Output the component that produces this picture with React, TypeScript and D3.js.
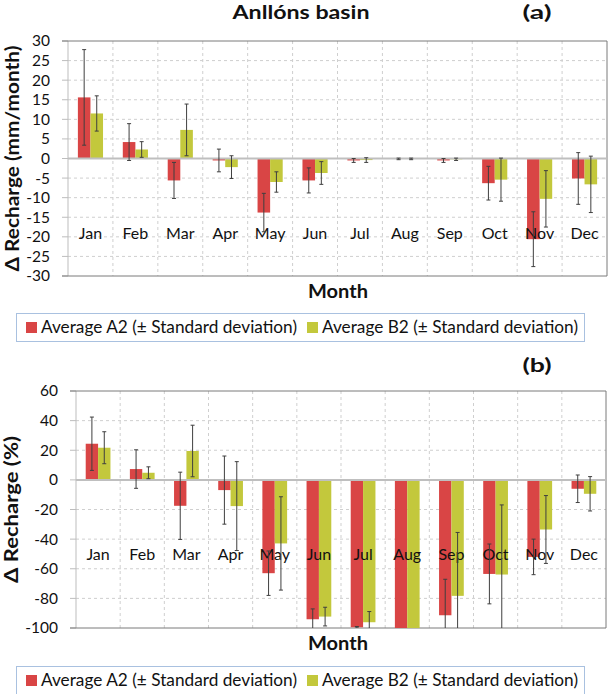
import React, { useEffect, useRef } from 'react';
import * as d3 from 'd3';

const months = ['Jan', 'Feb', 'Mar', 'Apr', 'May', 'Jun', 'Jul', 'Aug', 'Sep', 'Oct', 'Nov', 'Dec'];
const seriesNames = ['Average A2 (± Standard deviation)', 'Average B2 (± Standard deviation)'];
const seriesColors = ['#d94545', '#c3c83c'];

// panel (a): change in recharge, mm/month
const a2Mm = [15.6, 4.2, -5.6, -0.5, -13.8, -5.6, -0.5, -0.1, -0.5, -6.3, -20.6, -5.1];
const a2MmSd = [12.2, 4.7, 4.6, 2.9, 4.9, 3.2, 0.5, 0.2, 0.5, 4.3, 7.0, 6.6];
const b2Mm = [11.5, 2.3, 7.3, -2.2, -6.0, -3.7, -0.4, -0.1, -0.2, -5.4, -10.3, -6.6];
const b2MmSd = [4.5, 2.0, 6.6, 2.9, 2.6, 2.9, 0.6, 0.2, 0.3, 5.5, 7.2, 7.2];

// panel (b): change in recharge, %
const a2Pct = [24.4, 7.3, -17.5, -6.9, -63, -94.1, -99.5, -100, -91.4, -63.5, -52, -6];
const a2PctSd = [18, 13, 22.7, 23, 15, 7, 0.5, 0, 24.3, 20.2, 12, 9.3];
const b2Pct = [21.7, 4.8, 19.5, -17.7, -42.9, -92.3, -96.1, -100, -78.3, -63.9, -33.5, -9.4];
const b2PctSd = [10.8, 4, 17.4, 30, 31.5, 6.3, 7.2, 0, 42.8, 47, 22.9, 11.6];

const ticksA = [30, 25, 20, 15, 10, 5, 0, -5, -10, -15, -20, -25, -30];
const ticksB = [60, 40, 20, 0, -20, -40, -60, -80, -100];

const FONT = 'Lato, "Open Sans", sans-serif';

const App = () => {
    const svgRef = useRef(null);

    useEffect(() => {
        const svg = d3.select(svgRef.current);
        svg.selectAll('*').remove();

        const panels = [
            {
                id: 'a', left: 68, right: 607, top: 41, bottom: 276, domain: [-30, 30], ticks: ticksA,
                values: [a2Mm, b2Mm], sds: [a2MmSd, b2MmSd], tickRight: 50,
                yTitle: 'Δ Recharge (mm/month)', yTitleX: 13, yTitleLen: 226,
                title: 'Anllóns basin', letter: '(a)', letterY: 19, monthY: 298,
                legendY: 313
            },
            {
                id: 'b', left: 76, right: 606, top: 391, bottom: 628, domain: [-100, 60], ticks: ticksB,
                values: [a2Pct, b2Pct], sds: [a2PctSd, b2PctSd], tickRight: 58,
                yTitle: 'Δ Recharge (%)', yTitleX: 12, yTitleLen: 147,
                title: null, letter: '(b)', letterY: 372, monthY: 650,
                legendY: 666
            }
        ];

        panels.forEach(p => {
            const g = svg.append('g');
            const y = d3.scaleLinear().domain(p.domain).range([p.bottom, p.top]);
            const x0 = d3.scaleBand().domain(months).range([p.left, p.right])
                .paddingInner(0.44).paddingOuter(0.22);
            const x1 = d3.scaleBand().domain(['A2', 'B2']).range([0, x0.bandwidth()]);
            const step = x0.step();

            g.append('clipPath').attr('id', 'clip-' + p.id)
                .append('rect')
                .attr('x', p.left).attr('y', p.top)
                .attr('width', p.right - p.left).attr('height', p.bottom - p.top);

            // horizontal grid
            g.selectAll('.hgrid').data(p.ticks.filter(t => t !== 0 && t !== p.domain[0] && t !== p.domain[1]))
                .join('line')
                .attr('x1', p.left).attr('x2', p.right)
                .attr('y1', d => y(d)).attr('y2', d => y(d))
                .attr('stroke', '#cfcfcf').attr('stroke-dasharray', '3,3');

            // vertical grid
            g.selectAll('.vgrid').data(months.slice(1))
                .join('line')
                .attr('x1', d => x0(d) - step * 0.22).attr('x2', d => x0(d) - step * 0.22)
                .attr('y1', p.top).attr('y2', p.bottom)
                .attr('stroke', '#cfcfcf').attr('stroke-dasharray', '3,3');

            // tick marks + labels
            g.selectAll('.tick').data(p.ticks)
                .join('line')
                .attr('x1', p.left - 6).attr('x2', p.left)
                .attr('y1', d => y(d)).attr('y2', d => y(d))
                .attr('stroke', '#bdbdbd');
            g.selectAll('.tlabel').data(p.ticks)
                .join('text')
                .attr('x', p.tickRight).attr('y', d => y(d))
                .attr('dy', '0.35em')
                .attr('text-anchor', 'end')
                .style('font', `15.5px ${FONT}`)
                .attr('fill', '#111')
                .text(d => d);

            // plot frame
            g.append('line').attr('x1', p.left).attr('x2', p.left).attr('y1', p.top).attr('y2', p.bottom)
                .attr('stroke', '#bdbdbd');
            g.append('line').attr('x1', p.left - 6).attr('x2', p.right).attr('y1', p.top).attr('y2', p.top)
                .attr('stroke', '#7a7a7a');
            g.append('line').attr('x1', p.right).attr('x2', p.right).attr('y1', p.top).attr('y2', p.bottom)
                .attr('stroke', '#7a7a7a');
            g.append('line').attr('x1', p.left - 6).attr('x2', p.right).attr('y1', p.bottom).attr('y2', p.bottom)
                .attr('stroke', '#7a7a7a');

            // bars
            const bars = g.append('g').attr('clip-path', `url(#clip-${p.id})`);
            p.values.forEach((vals, si) => {
                bars.selectAll('.bar' + si).data(vals)
                    .join('rect')
                    .attr('x', (d, i) => x0(months[i]) + x1(si === 0 ? 'A2' : 'B2'))
                    .attr('width', x1.bandwidth())
                    .attr('y', d => y(Math.max(0, d)))
                    .attr('height', d => Math.abs(y(d) - y(0)))
                    .attr('fill', seriesColors[si]);
            });

            // zero line
            g.append('line').attr('x1', p.left).attr('x2', p.right).attr('y1', y(0)).attr('y2', y(0))
                .attr('stroke', '#bfbfbf').attr('stroke-width', 2);

            // month labels, sitting below the zero line
            g.selectAll('.mlabel').data(months)
                .join('text')
                .attr('x', d => x0(d) + x0.bandwidth() / 2)
                .attr('y', y(0) + 75)
                .attr('dy', '0.35em')
                .attr('text-anchor', 'middle')
                .style('font', `16px ${FONT}`)
                .attr('fill', '#111')
                .text(d => d);

            // error bars
            const errs = g.append('g').attr('clip-path', `url(#clip-${p.id})`)
                .attr('stroke', '#3f3f3f').attr('stroke-width', 1);
            p.values.forEach((vals, si) => {
                const sd = p.sds[si];
                vals.forEach((v, i) => {
                    if (sd[i] <= 0) return;
                    const cx = x0(months[i]) + x1(si === 0 ? 'A2' : 'B2') + x1.bandwidth() / 2;
                    const lo = y(v - sd[i]);
                    const hi = y(v + sd[i]);
                    errs.append('line').attr('x1', cx).attr('x2', cx).attr('y1', lo).attr('y2', hi);
                    errs.append('line').attr('x1', cx - 2).attr('x2', cx + 2).attr('y1', lo).attr('y2', lo);
                    errs.append('line').attr('x1', cx - 2).attr('x2', cx + 2).attr('y1', hi).attr('y2', hi);
                });
            });

            // titles
            const midY = (p.top + p.bottom) / 2;
            g.append('text')
                .attr('transform', `translate(${p.yTitleX},${midY}) rotate(-90)`)
                .attr('dy', '0.35em')
                .attr('text-anchor', 'middle')
                .attr('textLength', p.yTitleLen)
                .attr('lengthAdjust', 'spacingAndGlyphs')
                .style('font', `bold 18px ${FONT}`)
                .attr('fill', '#111')
                .text(p.yTitle);
            if (p.title) {
                g.append('text').attr('x', 301).attr('y', 19)
                    .attr('text-anchor', 'middle')
                    .attr('textLength', 137)
                    .attr('lengthAdjust', 'spacingAndGlyphs')
                    .style('font', `bold 19px ${FONT}`)
                    .attr('fill', '#111')
                    .text(p.title);
            }
            g.append('text').attr('x', 537).attr('y', p.letterY)
                .attr('text-anchor', 'middle')
                .attr('textLength', 29)
                .attr('lengthAdjust', 'spacingAndGlyphs')
                .style('font', `bold 19px ${FONT}`)
                .attr('fill', '#111')
                .text(p.letter);
            g.append('text').attr('x', 338).attr('y', p.monthY)
                .attr('text-anchor', 'middle')
                .attr('textLength', 60)
                .attr('lengthAdjust', 'spacingAndGlyphs')
                .style('font', `bold 19px ${FONT}`)
                .attr('fill', '#111')
                .text('Month');

            // legend
            const lg = g.append('g');
            lg.append('rect').attr('x', 16.5).attr('y', p.legendY + 0.5)
                .attr('width', 568).attr('height', 28)
                .attr('fill', 'white').attr('stroke', '#a9c1e0');
            const itemX = [26, 307];
            seriesNames.forEach((name, si) => {
                lg.append('rect').attr('x', itemX[si]).attr('y', p.legendY + 9)
                    .attr('width', 11).attr('height', 11)
                    .attr('fill', seriesColors[si]);
                lg.append('text').attr('x', itemX[si] + 15).attr('y', p.legendY + 14.5)
                    .attr('dy', '0.35em')
                    .attr('textLength', 256)
                    .attr('lengthAdjust', 'spacingAndGlyphs')
                    .style('font', `16.5px ${FONT}`)
                    .attr('fill', '#111')
                    .text(name);
            });
        });
    }, []);

    return (
        <svg ref={svgRef} width={609} height={694}
            style={{ position: 'absolute', left: 0, top: 0, background: 'white' }}></svg>
    );
};

export default App;
